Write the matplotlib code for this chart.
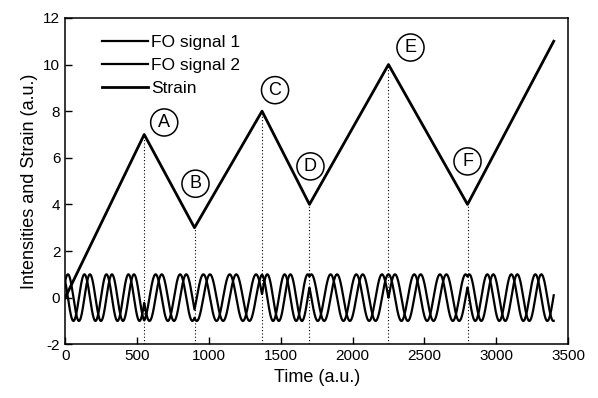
import numpy as np
import matplotlib
matplotlib.use("Agg")
import matplotlib.pyplot as plt
from matplotlib.ticker import MultipleLocator

plt.rcParams["font.family"] = ["Liberation Sans", "DejaVu Sans"]
plt.rcParams["axes.unicode_minus"] = False

# strain profile: turning points
strain_time = [0, 550, 900, 1370, 1700, 2250, 2800, 3400]
strain_value = [0, 7, 3, 8, 4, 10, 4, 11]

# labelled turning points A-F
point_labels = ["A", "B", "C", "D", "E", "F"]
point_time = strain_time[1:7]
point_value = strain_value[1:7]
# label offsets in pixels relative to the point
label_dx = [20, 1, 13, 1, 22, 0]
label_dy = [12, 44, 21, 38, 17, 43]

# FO signals follow the strain: fringe period in strain units
fringe_period = 1.95
fringe_phase = np.pi / 4

t = np.linspace(strain_time[0], strain_time[-1], 3000)
s = np.interp(t, strain_time, strain_value)
phase = 2 * np.pi * s / fringe_period + fringe_phase
fo1 = np.sin(phase)
fo2 = np.cos(phase)

fig = plt.figure(figsize=(5.98, 3.98), dpi=100)
ax = fig.add_axes([0.109, 0.135, 0.841, 0.82])

ax.plot(t, fo1, color="black", lw=1.6, label="FO signal 1")
ax.plot(t, fo2, color="black", lw=1.6, label="FO signal 2")
ax.plot(strain_time, strain_value, color="black", lw=2.0, label="Strain")

for lab, tx, v, dx, dy in zip(point_labels, point_time, point_value, label_dx, label_dy):
    ax.plot([tx, tx], [-2, v], color="black", ls=(0, (1, 2)), lw=0.8)
    ax.annotate(lab, xy=(tx, v), xytext=(dx, dy), textcoords="offset pixels",
                ha="center", va="center", fontsize=13,
                bbox=dict(boxstyle="circle,pad=0.28", fc="none", ec="black", lw=1.1))

ax.set_xlim(0, 3500)
ax.set_ylim(-2, 12)
ax.xaxis.set_major_locator(MultipleLocator(500))
ax.yaxis.set_major_locator(MultipleLocator(2))
ax.tick_params(direction="in", length=5, labelsize=11, width=1)
for sp in ax.spines.values():
    sp.set_linewidth(1.1)

ax.set_xlabel("Time (a.u.)", fontsize=13)
ax.set_ylabel("Intensities and Strain (a.u.)", fontsize=13)

ax.legend(loc="upper left", bbox_to_anchor=(0.05, 0.985), frameon=False,
          fontsize=12.5, handlelength=2.6, handletextpad=0.2, labelspacing=0.45,
          borderaxespad=0.3)

fig.savefig("out.png", dpi=100)
